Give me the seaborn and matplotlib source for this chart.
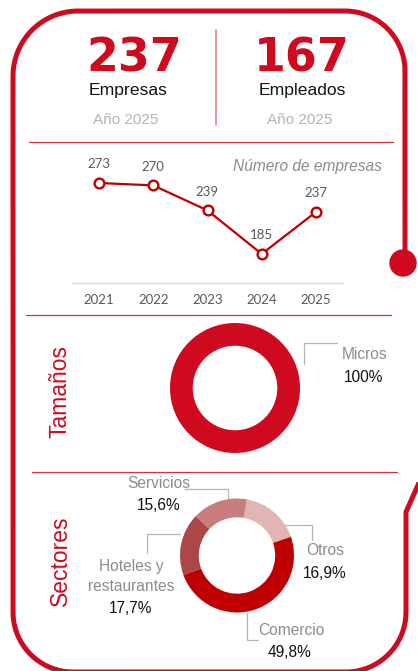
import numpy as np
import pandas as pd
import matplotlib
import matplotlib.pyplot as plt
import seaborn as sns

matplotlib.use("Agg")

# ── Data ──────────────────────────────────────────────────────────────────────
years = [2021, 2022, 2023, 2024, 2025]
empresas = [273, 270, 239, 185, 237]

total_empresas = 237
total_empleados = 167
anio = "Año 2025"

tamanos = ["Micros"]
tamanos_pct = [100.0]

sectores = ["Otros", "Comercio", "Hoteles y\nrestaurantes", "Servicios"]
sectores_pct = [16.9, 49.8, 17.7, 15.6]

# ── Style ─────────────────────────────────────────────────────────────────────
W, H = 418, 671
RED = "#CF0A1F"
LINE_RED = "#C00000"
GREY_TXT = "#8C8C8C"
LEADER = "#B4B4B4"
SECTOR_COLORS = ["#E2B5B5", "#C00000", "#AD4646", "#C97C7C"]

sns.set_theme(style="white")
plt.rcParams["font.family"] = ["Liberation Sans", "DejaVu Sans"]


def px_box(x0, y0, x1, y1):
    """Pixel box (top-left origin) -> figure fraction rect."""
    return [x0 / W, 1 - y1 / H, (x1 - x0) / W, (y1 - y0) / H]


def arc(cx, cy, r, a0, a1, n=40):
    t = np.radians(np.linspace(a0, a1, n))
    return list(cx + r * np.cos(t)), list(cy - r * np.sin(t))


fig = plt.figure(figsize=(W / 100, H / 100), dpi=100)
bg = fig.add_axes([0, 0, 1, 1])
bg.set_xlim(0, W)
bg.set_ylim(H, 0)
bg.axis("off")

# ── Frame ─────────────────────────────────────────────────────────────────────
xs, ys = [405], [263]
for seg in [arc(345, 71, 60, 0, 90), arc(78, 76, 65, 90, 180),
            arc(73, 612, 60, 180, 270), arc(346, 612, 60, 270, 360)]:
    xs += seg[0]
    ys += seg[1]
xs += [406, 422]
ys += [512, 476]
bg.plot(xs, ys, color=RED, lw=3.6, solid_capstyle="butt", solid_joinstyle="round")
bg.add_patch(plt.Circle((403, 263), 13, color=RED))

# separators
bg.plot([29, 393], [142, 142], color=RED, lw=0.9, alpha=0.85)
bg.plot([26, 391], [314.5, 314.5], color=RED, lw=0.9, alpha=0.85)
bg.plot([32, 397], [472, 472], color=RED, lw=0.9, alpha=0.85)
bg.plot([216, 216], [30, 125], color="#E8808A", lw=1.2)

# ── Header ────────────────────────────────────────────────────────────────────
for x, val, lab, dx in [(134, total_empresas, "Empresas", -6),
                        (302, total_empleados, "Empleados", 0)]:
    bg.text(x, 71, str(val), ha="center", va="baseline", color=RED,
            fontsize=33, fontweight="bold", family="DejaVu Sans")
    bg.text(x + dx, 95, lab, ha="center", va="baseline",
            color="#111111", fontsize=12.6)
    bg.text(x + dx - 2, 124, anio, ha="center", va="baseline",
            color="#B4B4B4", fontsize=11)

# ── Line chart ────────────────────────────────────────────────────────────────
df = pd.DataFrame({"year": years, "empresas": empresas})
ax = fig.add_axes(px_box(72, 161.2, 343, 283))
sns.lineplot(data=df, x="year", y="empresas", ax=ax, color=LINE_RED, lw=1.6,
             marker="o", markersize=7, markerfacecolor="white",
             markeredgecolor=LINE_RED, markeredgewidth=1.7)
for yr, v in zip(years, empresas):
    ax.annotate(str(v), (yr, v), xytext=(0, 13.5), textcoords="offset points",
                ha="center", va="center", fontsize=9.5, color="#595959", family="Lato")
ax.set_xlim(2020.5, 2025.5)
ax.set_ylim(149, 300)
ax.set_xticks(years)
ax.set_xticklabels([str(y) for y in years], fontsize=9.5, color="#595959", family="Lato")
ax.set_yticks([])
ax.set_xlabel("")
ax.set_ylabel("")
ax.tick_params(axis="x", length=0, pad=8)
for s in ["top", "left", "right"]:
    ax.spines[s].set_visible(False)
ax.spines["bottom"].set_color("#D9D9D9")
ax.spines["bottom"].set_linewidth(1.0)
ax.patch.set_alpha(0)
bg.text(382, 166, "Número de empresas", ha="right", va="center", style="italic",
        color=GREY_TXT, fontsize=11.2)

# ── Tamaños donut ─────────────────────────────────────────────────────────────
ax1 = fig.add_axes(px_box(235 - 65, 388 - 65, 235 + 65, 388 + 65))
ax1.pie(tamanos_pct, colors=[RED], startangle=90, counterclock=False,
        wedgeprops=dict(width=0.35, edgecolor="none"))
ax1.set_xlim(-1, 1)
ax1.set_ylim(-1, 1)
ax1.set_aspect("equal")
bg.plot([304, 304, 337], [364, 343, 343], color=LEADER, lw=0.9)
bg.text(365, 359, tamanos[0], ha="center", va="baseline", color=GREY_TXT,
        fontsize=11.2)
bg.text(364, 382, f"{tamanos_pct[0]:.0f}%", ha="center", va="baseline",
        color="#111111", fontsize=11.2)
bg.text(60, 392, "Tamaños", rotation=90, ha="center", va="center", color=RED,
        fontsize=16.5)

# ── Sectores donut ────────────────────────────────────────────────────────────
ax2 = fig.add_axes(px_box(237 - 57, 555.5 - 57, 237 + 57, 555.5 + 57))
ax2.pie(sectores_pct, colors=SECTOR_COLORS, startangle=80, counterclock=False,
        wedgeprops=dict(width=0.33, edgecolor="none"))
ax2.set_xlim(-1, 1)
ax2.set_ylim(-1, 1)
ax2.set_aspect("equal")
bg.text(60, 561, "Sectores", rotation=90, ha="center", va="center", color=RED,
        fontsize=16.5)


def pct(v):
    return f"{v:.1f}%".replace(".", ",")


# leaders and labels: (label position, pct position, leader path)
sector_labels = {
    "Otros": ((325, 555), (325, 578), ([283, 312, 312], [525, 525, 540])),
    "Comercio": ((291, 635), (290, 657), ([247, 247, 258], [613, 640, 640])),
    "Hoteles y\nrestaurantes": ((131, 591), (131, 613), ([180, 147, 147], [534, 534, 553])),
    "Servicios": ((159, 488), (159, 510), ([185, 228, 228], [489, 489, 499])),
}
for name, v in zip(sectores, sectores_pct):
    (lx, ly), (px, py), (lxs, lys) = sector_labels[name]
    bg.plot(lxs, lys, color=LEADER, lw=0.9)
    bg.text(lx, ly, name, ha="center", va="baseline", color=GREY_TXT,
            fontsize=11.2, linespacing=1.45)
    bg.text(px, py, pct(v), ha="center", va="baseline", color="#111111",
            fontsize=11.2)

fig.savefig("out.png", dpi=100, facecolor="white")
